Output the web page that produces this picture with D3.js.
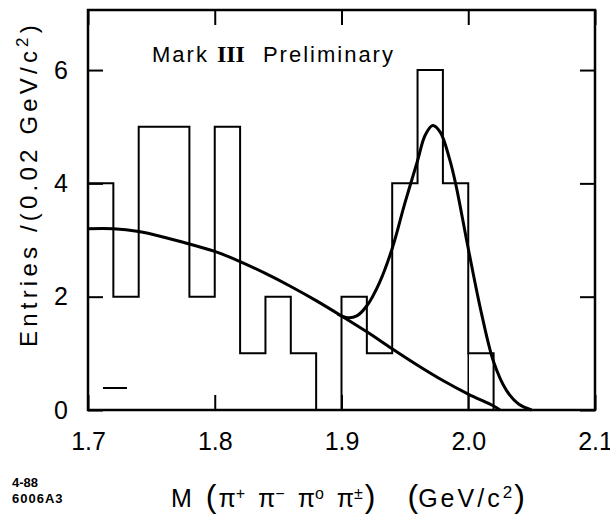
<!DOCTYPE html>
<html>
<head>
<meta charset="utf-8">
<script src="https://cdn.jsdelivr.net/npm/d3@7"></script>
<style>
  body { margin: 0; background: #fff; }
  svg text { font-family: "Liberation Sans", Arial, sans-serif; fill: #000; }
</style>
</head>
<body>
<div id="chart"></div>
<script>
// histogram bins, 0.02 GeV/c2 wide
var binStart = [1.70, 1.72, 1.74, 1.76, 1.78, 1.80, 1.82, 1.84, 1.86, 1.88, 1.90, 1.92, 1.94, 1.96, 1.98, 2.00];
var binCount = [4, 2, 5, 5, 2, 5, 1, 2, 1, 0, 2, 1, 4, 6, 4, 1];
var binWidth = 0.02;

// background fit curve
var bgMass  = [1.70, 1.72, 1.74, 1.76, 1.78, 1.80, 1.82, 1.84, 1.86, 1.88, 1.90, 1.92, 1.94, 1.96, 1.98, 2.00, 2.02, 2.025];
var bgValue = [3.2, 3.2, 3.15, 3.05, 2.93, 2.8, 2.62, 2.41, 2.18, 1.93, 1.66, 1.38, 1.08, 0.79, 0.52, 0.28, 0.07, 0.0];

// signal + background fit curve (peak part)
var fitMass  = [1.897, 1.905, 1.912, 1.92, 1.93, 1.94, 1.95, 1.96, 1.966, 1.972, 1.978, 1.985, 1.99, 2.00, 2.01, 2.02, 2.03, 2.04, 2.05];
var fitValue = [1.69, 1.63, 1.66, 1.84, 2.25, 2.85, 3.65, 4.4, 4.85, 5.02, 4.9, 4.45, 4.0, 2.85, 1.75, 0.85, 0.35, 0.1, 0.0];

var xTicks = [1.7, 1.8, 1.9, 2.0, 2.1];
var yTicks = [0, 2, 4, 6];

var width = 610, height = 515;
var plotLeft = 88, plotRight = 595, plotTop = 10, plotBottom = 410;

var svg = d3.select("#chart").append("svg")
    .attr("width", width)
    .attr("height", height);

var x = d3.scaleLinear().domain([1.7, 2.1]).range([plotLeft, plotRight]);
var y = d3.scaleLinear().domain([0, 7.06]).range([plotBottom, plotTop]);

// axes, ticks pointing inward
function styleAxis(g) {
    g.select(".domain").remove();
    g.selectAll(".tick line").attr("stroke", "#000").attr("stroke-width", 2);
    g.selectAll(".tick text").attr("font-size", 25).attr("font-family", "Liberation Sans, Arial, sans-serif");
}

svg.append("g")
    .attr("transform", "translate(0," + plotBottom + ")")
    .call(d3.axisBottom(x).tickValues(xTicks).tickSizeInner(-15).tickSizeOuter(0).tickPadding(22)
        .tickFormat(d3.format(".1f")))
    .call(styleAxis);

svg.append("g")
    .attr("transform", "translate(0," + plotTop + ")")
    .call(d3.axisTop(x).tickValues(xTicks).tickSizeInner(-15).tickSizeOuter(0).tickFormat(""))
    .call(styleAxis);

svg.append("g")
    .attr("transform", "translate(" + plotLeft + ",0)")
    .call(d3.axisLeft(y).tickValues(yTicks).tickSizeInner(-15).tickSizeOuter(0).tickPadding(20)
        .tickFormat(d3.format("d")))
    .call(styleAxis);

svg.append("g")
    .attr("transform", "translate(" + plotRight + ",0)")
    .call(d3.axisRight(y).tickValues(yTicks).tickSizeInner(-15).tickSizeOuter(0).tickFormat(""))
    .call(styleAxis);

// frame
svg.append("rect")
    .attr("x", plotLeft).attr("y", plotTop)
    .attr("width", plotRight - plotLeft).attr("height", plotBottom - plotTop)
    .attr("fill", "none").attr("stroke", "#000").attr("stroke-width", 2.5);

// histogram outline
var steps = binStart.map(function (d, i) { return {m: d, n: binCount[i]}; });
steps.push({m: binStart[binStart.length - 1] + binWidth, n: 0});

var stepLine = d3.line()
    .x(function (d) { return x(d.m); })
    .y(function (d) { return y(d.n); })
    .curve(d3.curveStepAfter);

svg.append("path")
    .attr("d", stepLine(steps))
    .attr("fill", "none").attr("stroke", "#000").attr("stroke-width", 2);

// stray edge line down to baseline at 2.00
var last = binStart.length - 1;
svg.append("line")
    .attr("x1", x(binStart[last])).attr("x2", x(binStart[last]))
    .attr("y1", y(binCount[last])).attr("y2", y(0))
    .attr("stroke", "#000").attr("stroke-width", 1.5);

// fit curves
var curve = d3.line()
    .x(function (d) { return x(d[0]); })
    .y(function (d) { return y(d[1]); })
    .curve(d3.curveCatmullRom);

svg.append("path")
    .attr("d", curve(d3.zip(bgMass, bgValue)))
    .attr("fill", "none").attr("stroke", "#000").attr("stroke-width", 3);

svg.append("path")
    .attr("d", curve(d3.zip(fitMass, fitValue)))
    .attr("fill", "none").attr("stroke", "#000").attr("stroke-width", 3);

// small dash near left axis
svg.append("line")
    .attr("x1", 103).attr("x2", 127).attr("y1", 388).attr("y2", 388)
    .attr("stroke", "#000").attr("stroke-width", 2);

// annotation
var note = svg.append("text").attr("x", 152).attr("y", 62).attr("font-size", 22)
    .attr("letter-spacing", 2);
note.append("tspan").text("Mark");
note.append("tspan").attr("dx", 8).attr("font-family", "Liberation Serif, serif").attr("font-weight", "bold")
    .attr("font-size", 24).attr("letter-spacing", 0).text("III");
note.append("tspan").attr("dx", 18).text("Preliminary");

// y title
var yt = svg.append("text")
    .attr("transform", "translate(37,184) rotate(-90)")
    .attr("text-anchor", "middle")
    .attr("font-size", 24)
    .attr("letter-spacing", 4.2);
yt.append("tspan").text("Entries /(0.02 GeV/c");
yt.append("tspan").attr("baseline-shift", "super").attr("font-size", 17).text("2");
yt.append("tspan").text(")");

// x title
var xt = svg.append("text").attr("x", 171).attr("y", 507).attr("font-size", 25);
xt.append("tspan").text("M");
xt.append("tspan").attr("dx", 14).attr("font-size", 32).text("(");
xt.append("tspan").attr("dx", 2).text("π");
xt.append("tspan").attr("baseline-shift", "super").attr("font-size", 16).text("+");
xt.append("tspan").attr("dx", 13).text("π");
xt.append("tspan").attr("baseline-shift", "super").attr("font-size", 16).text("−");
xt.append("tspan").attr("dx", 13).text("π");
xt.append("tspan").attr("baseline-shift", "super").attr("font-size", 16).text("o");
xt.append("tspan").attr("dx", 13).text("π");
xt.append("tspan").attr("baseline-shift", "super").attr("font-size", 16).text("±");
xt.append("tspan").attr("dx", 2).attr("font-size", 32).text(")");
xt.append("tspan").attr("dx", 32).attr("font-size", 32).text("(");
xt.append("tspan").attr("letter-spacing", 3).text("GeV/c");
xt.append("tspan").attr("baseline-shift", "super").attr("font-size", 17).text("2");
xt.append("tspan").attr("dx", 2).attr("font-size", 32).text(")");

// plate number
svg.append("text").attr("x", 12).attr("y", 487).attr("font-size", 13).attr("font-weight", "bold").text("4-88");
svg.append("text").attr("x", 12).attr("y", 503).attr("font-size", 13).attr("font-weight", "bold")
    .attr("letter-spacing", 1).text("6006A3");
</script>
</body>
</html>
